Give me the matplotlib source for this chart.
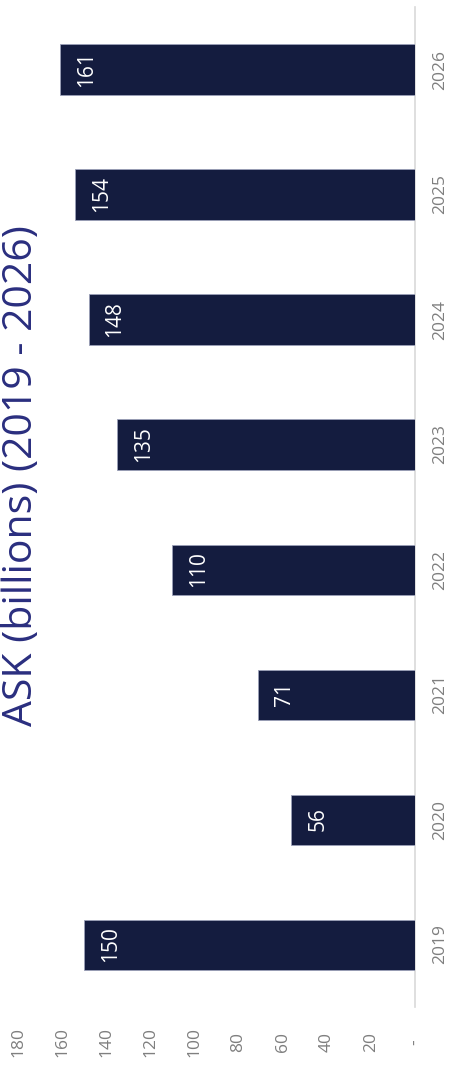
import matplotlib
matplotlib.use("Agg")
import matplotlib.pyplot as plt
from matplotlib.ticker import FuncFormatter

years = ["2019", "2020", "2021", "2022", "2023", "2024", "2025", "2026"]
ask_billions = [150, 56, 71, 110, 135, 148, 154, 161]
value_ticks = [0, 20, 40, 60, 80, 100, 120, 140, 160, 180]
title = "ASK (billions) (2019 - 2026)"

plt.rcParams['font.family'] = ['Open Sans', 'DejaVu Sans']

W, H = 454, 1079
fig = plt.figure(figsize=(W / 100, H / 100), dpi=100)
fig.patch.set_facecolor('white')

ax = fig.add_axes([18 / W, 72 / H, (415 - 18) / W, 1000 / H])
pos = list(range(len(years)))
ax.barh(pos, ask_billions, height=0.4, color='#141C3F',
        edgecolor='#9AA0B8', linewidth=0.6, zorder=3)

ax.set_xlim(180, 0)
ax.set_ylim(-0.5, len(years) - 0.5)

for s in ['top', 'left', 'bottom']:
    ax.spines[s].set_visible(False)
ax.spines['right'].set_color('#D9D9D9')
ax.spines['right'].set_linewidth(1.2)

ax.set_xticks(value_ticks)
ax.xaxis.set_major_formatter(FuncFormatter(lambda v, p: '-' if v == 0 else f"{int(v)}"))
ax.tick_params(axis='x', length=0, pad=25, labelsize=12.5, labelcolor='#7F7F7F')
for lab in ax.get_xticklabels():
    lab.set_rotation(90)
    lab.set_va('center')
    lab.set_ha('center')

ax.yaxis.tick_right()
ax.set_yticks(pos)
ax.set_yticklabels(years)
ax.tick_params(axis='y', length=0, pad=18, labelsize=12.5, labelcolor='#7F7F7F')
for lab in ax.get_yticklabels():
    lab.set_rotation(90)
    lab.set_ha('center')
    lab.set_va('center')

for i, v in enumerate(ask_billions):
    ax.annotate(f"{v}", xy=(v, i), xytext=(19, 0), textcoords='offset points',
                ha='center', va='center', rotation=90, rotation_mode='anchor',
                color='white', fontsize=15, zorder=4)

fig.text(22 / W, 1 - 476 / H, title, rotation=90, ha='center', va='center',
         fontsize=29.5, color='#2A2E7F')

fig.savefig('out.png', dpi=100)
